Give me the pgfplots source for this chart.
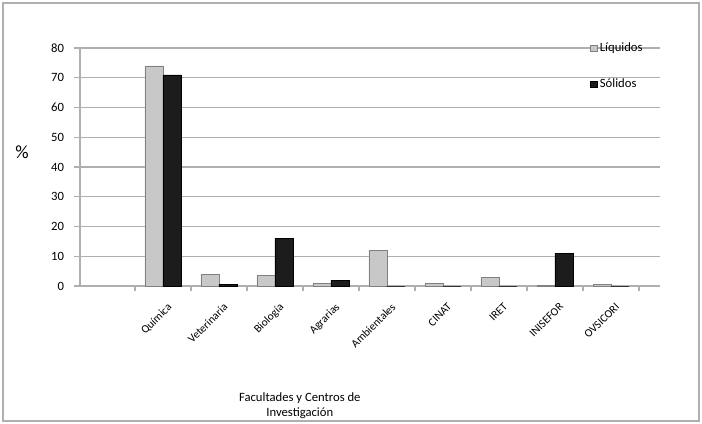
\documentclass[border=0pt]{standalone}
\usepackage{pgfplots}
\pgfplotsset{compat=1.18}
\usepackage{fontspec}
\setmainfont{Carlito}
\definecolor{liq}{RGB}{200,200,200}
\definecolor{sol}{RGB}{28,28,28}
\definecolor{linegray}{RGB}{175,175,175}
\begin{document}
\begin{tikzpicture}
% 1 px of the reference = 0.75pt; axis box from px (80,48) to (660,286)
\path (-60pt,-103.5pt) rectangle (466.5pt,214.5pt);
\draw[linegray, line width=1pt] (-57.75pt,-101.25pt) rectangle (464.25pt,212.25pt);
\begin{axis}[
    at={(0pt,0pt)}, anchor=south west,
    scale only axis, width=435pt, height=178.5pt,
    ybar=0pt, bar width=13.5pt,
    xmin=-1.482, xmax=8.875,
    ymin=0, ymax=80, ytick={0,10,...,80},
    xtick={0,...,8},
    xticklabels={Química,Veterinaria,Biología,Agrarias,Ambientales,CINAT,IRET,INISEFOR,OVSICORI},
    minor xtick={-0.5,0.5,...,8.5},
    major x tick style={draw=none},
    minor tick length=4pt,
    xticklabel style={rotate=45, anchor=north east, yshift=-4pt, font=\fontsize{8.5}{10}\selectfont},
    yticklabel style={font=\fontsize{9.5}{11}\selectfont, xshift=-4pt},
    /pgf/number format/assume math mode=true,
    axis x line*=bottom, axis y line*=left,
    axis line style={draw=linegray, line width=1pt},
    tick style={draw=linegray, line width=0.8pt},
    tick align=outside, major tick length=4.5pt,
    ymajorgrids, grid style={draw=linegray, line width=1pt},
    ylabel={\%},
    every axis y label/.style={at={(axis description cs:-0.1,0.563)}, anchor=center, font=\fontsize{14}{16}\selectfont},
    xlabel={Facultades y Centros de\\Investigación},
    every axis x label/.style={at={(axis description cs:0.379,-0.43)}, anchor=north, align=center, font=\fontsize{9.5}{11}\selectfont},
    legend style={at={(axis description cs:0.872,1.045)}, anchor=north west, draw=none, fill=none,
        font=\fontsize{9.5}{11}\selectfont, row sep=15pt, cells={anchor=west}},
    legend image code/.code={\fill[#1] (0pt,-2.5pt) rectangle (5pt,2.5pt);},
]
\addplot[fill=liq, draw=gray] coordinates {(0,74) (1,4) (2,3.5) (3,1) (4,12) (5,1) (6,3) (7,0.3) (8,0.5)};
\addplot[fill=sol, draw=black] coordinates {(0,71) (1,0.6) (2,16) (3,2) (4,0) (5,0) (6,0) (7,11) (8,0)};
\legend{Líquidos, Sólidos}
\end{axis}
\end{tikzpicture}
\end{document}
